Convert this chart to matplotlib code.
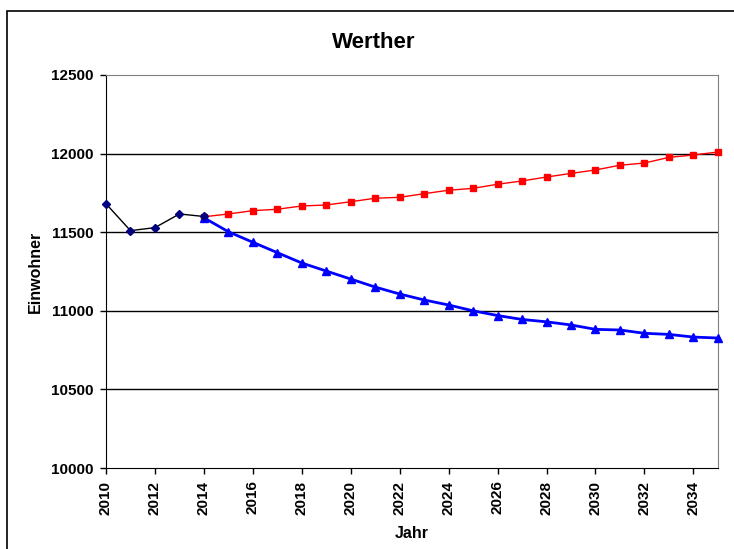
import matplotlib.pyplot as plt
from matplotlib.patches import Rectangle

plt.rcParams['font.family'] = ['Liberation Sans', 'DejaVu Sans']
plt.rcParams['font.weight'] = 'bold'

# observed values
years_obs = [2010, 2011, 2012, 2013, 2014]
pop_obs = [11681, 11510, 11529, 11616, 11600]

# forecast years
years_fc = list(range(2014, 2036))
pop_high = [11598, 11616, 11637, 11646, 11667, 11673, 11694, 11716, 11722, 11745,
            11767, 11779, 11805, 11826, 11851, 11874, 11896, 11926, 11940, 11976,
            11991, 12010]
pop_low = [11592, 11503, 11436, 11370, 11304, 11253, 11202, 11151, 11107, 11069,
           11037, 11000, 10970, 10945, 10930, 10910, 10882, 10878, 10857, 10850,
           10833, 10827]

xticks = list(range(2010, 2035, 2))
yticks = [10000, 10500, 11000, 11500, 12000, 12500]

fig = plt.figure(figsize=(7.34, 5.49), dpi=100)
ax = fig.add_axes([0.1444, 0.1475, 0.8336, 0.7159])

# outer chart border
fig.patches.append(Rectangle((7 / 734, -0.05), 1.1, (549 - 11) / 549 + 0.05,
                             transform=fig.transFigure, fill=False,
                             edgecolor='black', linewidth=1.2))

for y in [10500, 11000, 11500, 12000]:
    ax.axhline(y, color='black', linewidth=1, zorder=1)

ax.plot(years_fc, pop_high, color='#ff0000', linewidth=1, marker='s',
        markersize=5, zorder=3, clip_on=False)
ax.plot(years_fc, pop_low, color='#0000ff', linewidth=2, marker='^',
        markersize=6, zorder=4, clip_on=False)
ax.plot(years_obs, pop_obs, color='black', linewidth=1, marker='D',
        markersize=4.5, markerfacecolor='#000080', markeredgecolor='#000080',
        zorder=5, clip_on=False)

ax.set_xlim(2010, 2035)
ax.set_ylim(10000, 12500)
ax.set_xticks(xticks)
ax.set_yticks(yticks)
ax.set_xticklabels([str(x) for x in xticks], rotation=90, fontsize=11,
                   fontweight='bold')
ax.set_yticklabels([str(y) for y in yticks], fontsize=11, fontweight='bold')
ax.tick_params(direction='out', length=4, width=1, pad=5)

ax.spines['top'].set_color('#808080')
ax.spines['right'].set_color('#808080')
ax.spines['left'].set_color('black')
ax.spines['bottom'].set_color('black')

fig.text(374 / 734, 1 - 42 / 549, 'Werther', ha='center', va='center',
         fontsize=16, fontweight='bold')
ax.set_xlabel('Jahr', fontsize=11.5, fontweight='bold', labelpad=8)
ax.set_ylabel('Einwohner', fontsize=11.5, fontweight='bold', labelpad=6)

fig.savefig('out.png', dpi=100)
